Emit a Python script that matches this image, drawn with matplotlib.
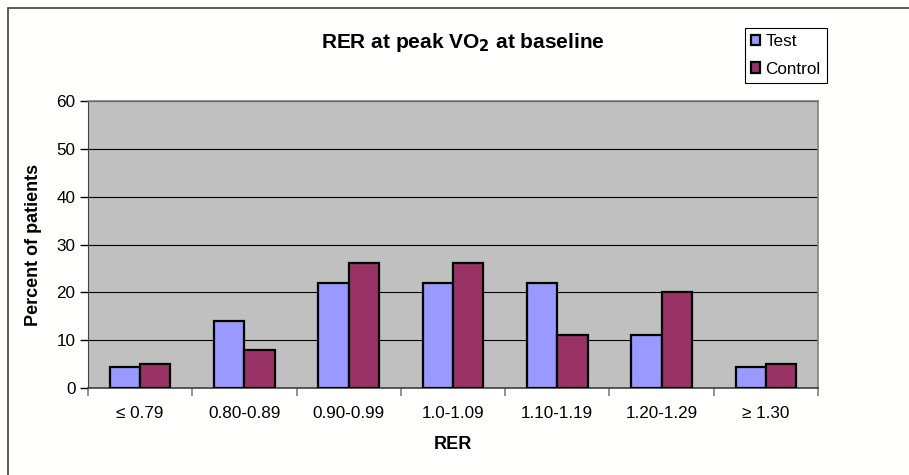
import numpy as np
import matplotlib
matplotlib.use("Agg")
import matplotlib.pyplot as plt
from matplotlib.patches import Rectangle

plt.rcParams["font.family"] = ["Liberation Sans", "DejaVu Sans"]

CATEGORIES = ["\u2264 0.79", "0.80-0.89", "0.90-0.99", "1.0-1.09", "1.10-1.19", "1.20-1.29", "\u2265 1.30"]
TEST = [4.4, 14, 22, 22, 22, 11.1, 4.4]
CONTROL = [5, 8, 26.1, 26.1, 11.1, 20, 5]

fig = plt.figure(figsize=(9.09, 4.75), dpi=100, facecolor="#fffffd")
ax = fig.add_axes([88 / 909, 1 - 388 / 475, 730 / 909, 287 / 475])
ax.set_facecolor("#c0c0c0")

x = np.arange(len(CATEGORIES))
w = 0.29
ax.bar(x - w / 2, TEST, w, color="#9999ff", edgecolor="black", linewidth=1.6, label="Test", zorder=3)
ax.bar(x + w / 2, CONTROL, w, color="#993366", edgecolor="black", linewidth=1.6, label="Control", zorder=3)

ax.set_xlim(-0.5, len(CATEGORIES) - 0.5)
ax.set_ylim(0, 60)
ax.set_yticks(range(0, 61, 10))
ax.yaxis.grid(True, color="black", linewidth=0.8, zorder=1)
ax.set_axisbelow(True)

ax.set_xticks(x)
ax.set_xticklabels(CATEGORIES, fontsize=12.3)
ax.tick_params(axis="x", length=0, pad=13)
ax.set_xticks(np.arange(-0.5, len(CATEGORIES)), minor=True)
ax.tick_params(axis="x", which="minor", length=6, color="#808080", width=1.2)
ax.tick_params(axis="y", labelsize=12.3, length=6, width=1, pad=3)

for side in ["top", "right"]:
    ax.spines[side].set_color("#808080")
    ax.spines[side].set_linewidth(1.2)
ax.spines["left"].set_color("#404040")
ax.spines["bottom"].set_color("#404040")
ax.spines["bottom"].set_linewidth(1.2)

ax.set_ylabel("Percent of patients", fontsize=13, fontweight="bold", labelpad=10)
ax.set_xlabel("RER", fontsize=13, fontweight="bold", labelpad=11)
fig.text(463 / 909, 1 - 42 / 475, "RER at peak VO$_\\mathbf{2}$ at baseline", fontsize=15,
         fontweight="bold", ha="center", va="center")

leg = ax.legend(loc="upper left", bbox_to_anchor=(745 / 909, 1 - 28 / 475), bbox_transform=fig.transFigure,
                fontsize=12.3, frameon=True, fancybox=False, edgecolor="black", framealpha=1,
                handlelength=0.55, handleheight=0.6, handletextpad=0.3, labelspacing=0.75,
                borderpad=0.35, borderaxespad=0)
leg.get_frame().set_linewidth(0.8)

fig.patches.append(Rectangle((8 / 909, -0.1), 1.2, 1 - 8 / 475 + 0.1, transform=fig.transFigure,
                             fill=False, edgecolor="#404040", linewidth=1.2))

fig.savefig("out.png", dpi=100, facecolor=fig.get_facecolor())
